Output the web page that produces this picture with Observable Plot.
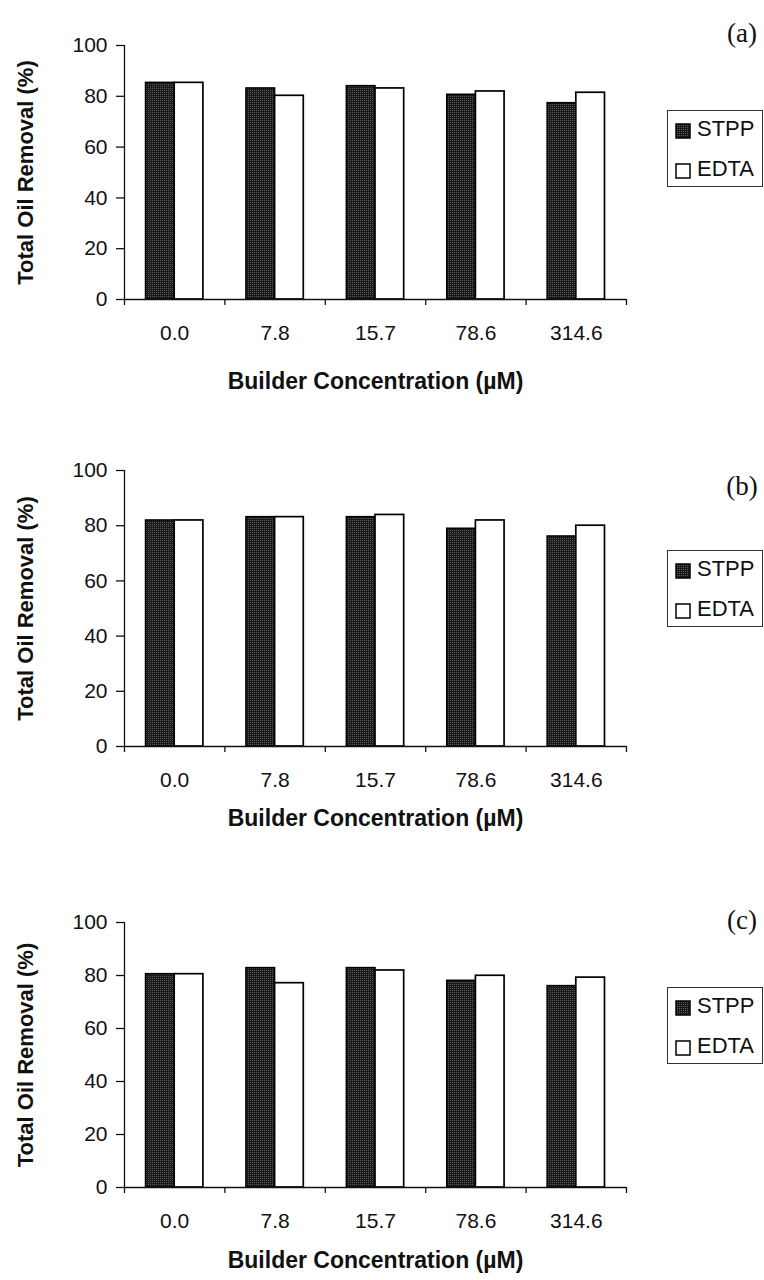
<!DOCTYPE html>
<html>
<head>
<meta charset="utf-8">
<script src="https://cdn.jsdelivr.net/npm/d3@7"></script>
<script src="https://cdn.jsdelivr.net/npm/@observablehq/plot@0.6"></script>
<style>
  body { margin: 0; background: #fff; }
  #page { position: relative; width: 764px; height: 1280px; overflow: hidden;
          font-family: "Liberation Sans", Arial, sans-serif; color: #111; }
  .panel { position: absolute; left: 0; }
  .tag { position: absolute; font-family: "Liberation Serif", "Times New Roman", serif;
         font-size: 27px; line-height: 1; transform: translate(-50%, -50%); white-space: nowrap; }
  .legend { position: absolute; left: 667px; width: 96px; height: 77px; box-sizing: border-box;
            border: 1px solid #333; background: #fff; }
  .legend .key { position: absolute; left: 7px; width: 16px; height: 16px; }
  .legend .name { position: absolute; left: 29px; font-size: 22px; line-height: 22px; white-space: nowrap; }
</style>
</head>
<body>
<svg width="0" height="0" style="position:absolute">
  <defs>
    <pattern id="stipple" width="2" height="2" patternUnits="userSpaceOnUse">
      <rect width="2" height="2" fill="#191919"></rect>
      <rect width="1" height="1" fill="#5a5a5a"></rect>
    </pattern>
  </defs>
</svg>
<div id="page"></div>
<script>
// Builder concentrations (µM) along the x axis
const categories = ["0.0", "7.8", "15.7", "78.6", "314.6"];
const seriesNames = ["STPP", "EDTA"];
const yTicks = [0, 20, 40, 60, 80, 100];
const yTitle = "Total Oil Removal (%)";
const xTitle = "Builder Concentration (µM)";

// Total oil removal (%) per builder, panel (a)
const stppA = [85.3, 83.1, 84.0, 80.6, 77.3];
const edtaA = [85.3, 80.2, 83.1, 81.9, 81.4];
// panel (b)
const stppB = [81.9, 83.1, 83.1, 78.9, 76.1];
const edtaB = [81.9, 83.1, 83.9, 81.9, 80.0];
// panel (c)
const stppC = [80.5, 82.8, 82.8, 78.0, 76.0];
const edtaC = [80.5, 77.1, 81.9, 79.9, 79.2];

const panelTags = ["(a)", "(b)", "(c)"];
const panelData = [[stppA, edtaA], [stppB, edtaB], [stppC, edtaC]];

// Layout of the three stacked panels
const layout = [
  {top: 0,   height: 420, marginTop: 45, marginBottom: 121, titleDy: 89, tagY: 33,  legendTop: 110},
  {top: 420, height: 430, marginTop: 50, marginBottom: 104, titleDy: 79, tagY: 486, legendTop: 550},
  {top: 850, height: 430, marginTop: 72, marginBottom: 93,  titleDy: 80, tagY: 920, legendTop: 987}
];

const W = 764, ML = 124, MR = 138;
const step = (W - ML - MR) / categories.length;
const barW = step / 3.5; // two bars per group with a 150% gap

const page = document.getElementById("page");

function rows(values) {
  return categories.map((c, i) => ({category: c, value: values[i]}));
}

layout.forEach((L, k) => {
  const [stpp, edta] = panelData[k];
  const chart = Plot.plot({
    width: W,
    height: L.height,
    marginLeft: ML,
    marginRight: MR,
    marginTop: L.marginTop,
    marginBottom: L.marginBottom,
    style: {fontFamily: '"Liberation Sans", Arial, sans-serif', fontSize: "21px", color: "#111", background: "transparent", overflow: "visible"},
    x: {type: "band", domain: categories, padding: 0, round: false, axis: null},
    y: {domain: [0, 100], axis: null},
    marks: [
      Plot.barY(rows(stpp), {x: "category", y: "value", fill: "url(#stipple)", stroke: "#000", strokeWidth: 1.5,
        insetLeft: step / 2 - barW, insetRight: step / 2}),
      Plot.barY(rows(edta), {x: "category", y: "value", fill: "#fff", stroke: "#000", strokeWidth: 1.7,
        insetLeft: step / 2, insetRight: step / 2 - barW}),
      // value axis line, running a little below the baseline
      Plot.ruleX([categories[0]], {x: d => d, dx: -step / 2, insetBottom: -6, stroke: "#111", strokeWidth: 1.3}),
      Plot.ruleY([0], {stroke: "#111", strokeWidth: 1.3}),
      // category boundary ticks
      Plot.ruleX(categories.slice(1), {x: d => d, dx: -step / 2, y1: 0, y2: 0, insetBottom: -6, stroke: "#111", strokeWidth: 1.3}),
      Plot.ruleX(categories.slice(-1), {x: d => d, dx: step / 2, y1: 0, y2: 0, insetBottom: -6, stroke: "#111", strokeWidth: 1.3}),
      Plot.axisY({ticks: yTicks, tickSize: 8, tickPadding: 9, tickFormat: d => String(d), label: null, fontSize: 21, strokeWidth: 1.3}),
      Plot.axisX({tickSize: 0, tickPadding: 26, label: null, fontSize: 21}),
      Plot.text([xTitle], {text: d => d, frameAnchor: "bottom", dy: L.titleDy, fontWeight: "bold", fontSize: 23}),
      Plot.text([yTitle], {text: d => d, frameAnchor: "left", textAnchor: "middle", dx: -99, rotate: -90, fontWeight: "bold", fontSize: 22})
    ]
  });
  chart.classList.add("panel");
  chart.style.top = L.top + "px";
  page.appendChild(chart);

  const tag = document.createElement("div");
  tag.className = "tag";
  tag.textContent = panelTags[k];
  tag.style.left = "742px";
  tag.style.top = L.tagY + "px";
  page.appendChild(tag);

  const legend = document.createElement("div");
  legend.className = "legend";
  legend.style.top = L.legendTop + "px";
  const fills = ["url(#stipple)", "#fff"];
  seriesNames.forEach((name, j) => {
    const key = document.createElementNS("http://www.w3.org/2000/svg", "svg");
    key.setAttribute("class", "key");
    key.style.top = (12 + j * 40) + "px";
    key.innerHTML = `<rect x="1" y="1" width="14" height="14" fill="${fills[j]}" stroke="#000" stroke-width="1.5"></rect>`;
    legend.appendChild(key);
    const label = document.createElement("div");
    label.className = "name";
    label.style.top = (7 + j * 40) + "px";
    label.textContent = name;
    legend.appendChild(label);
  });
  page.appendChild(legend);
});
</script>
</body>
</html>
